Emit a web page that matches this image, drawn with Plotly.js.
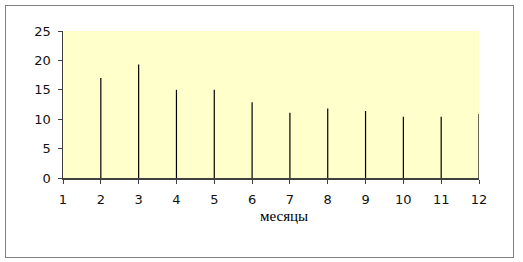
<!DOCTYPE html>
<html><head><meta charset="utf-8">
<script src="https://cdn.plot.ly/plotly-3.0.1.min.js"></script>
<style>
html,body{margin:0;padding:0;background:#fff;}
#wrap{position:relative;width:523px;height:262px;}
#chart{position:absolute;left:0;top:0;width:523px;height:262px;}
#frame{position:absolute;left:5px;top:5px;width:507px;height:251px;border:1px solid #808080;pointer-events:none;}
</style></head>
<body>
<div id="wrap"><div id="chart"></div><div id="frame"></div></div>
<script>
const months = [2, 3, 4, 5, 6, 7, 8, 9, 10, 11, 12];
const values = [17.0, 19.3, 15.0, 15.0, 12.9, 11.1, 11.8, 11.4, 10.4, 10.4, 10.9];
const xTicks = [1, 2, 3, 4, 5, 6, 7, 8, 9, 10, 11, 12];
const yTicks = [0, 5, 10, 15, 20, 25];
const xTitle = 'месяцы';

const lx = [], ly = [];
months.forEach((m, i) => { lx.push(m, m, null); ly.push(0, values[i], null); });

const trace = {
  x: lx, y: ly, type: 'scatter', mode: 'lines',
  line: {color: '#000000', width: 1.2},
  cliponaxis: false, hoverinfo: 'skip', showlegend: false
};

const tickFont = {family: "'DejaVu Sans', Verdana, sans-serif", size: 13, color: '#111'};

const layout = {
  width: 523, height: 262,
  margin: {l: 63, r: 44, t: 31, b: 84, pad: 0},
  paper_bgcolor: 'rgba(0,0,0,0)',
  plot_bgcolor: '#ffffcc',
  showlegend: false,
  font: tickFont,
  xaxis: {
    range: [1, 12], tickvals: xTicks, ticktext: xTicks.map(String),
    showgrid: false, zeroline: false, showline: true, linecolor: '#404040', linewidth: 1.5,
    ticks: 'outside', ticklen: 4, tickcolor: '#404040', tickwidth: 1,
    ticklabelstandoff: 5,
    tickfont: tickFont
  },
  yaxis: {
    range: [0, 25], tickvals: yTicks, ticktext: yTicks.map(String),
    showgrid: false, zeroline: false, showline: true, linecolor: '#404040', linewidth: 1.5,
    ticks: 'outside', ticklen: 4, tickcolor: '#404040', tickwidth: 1,
    ticklabelstandoff: 4,
    tickfont: tickFont
  },
  annotations: [{
    text: xTitle, xref: 'paper', yref: 'paper', x: 0.531, y: 0,
    xanchor: 'center', yanchor: 'middle', yshift: -38, showarrow: false,
    font: {family: "'Liberation Serif', 'Times New Roman', serif", size: 15, color: '#000'}
  }]
};

Plotly.newPlot('chart', [trace], layout, {displayModeBar: false, staticPlot: true});
</script>
</body></html>
